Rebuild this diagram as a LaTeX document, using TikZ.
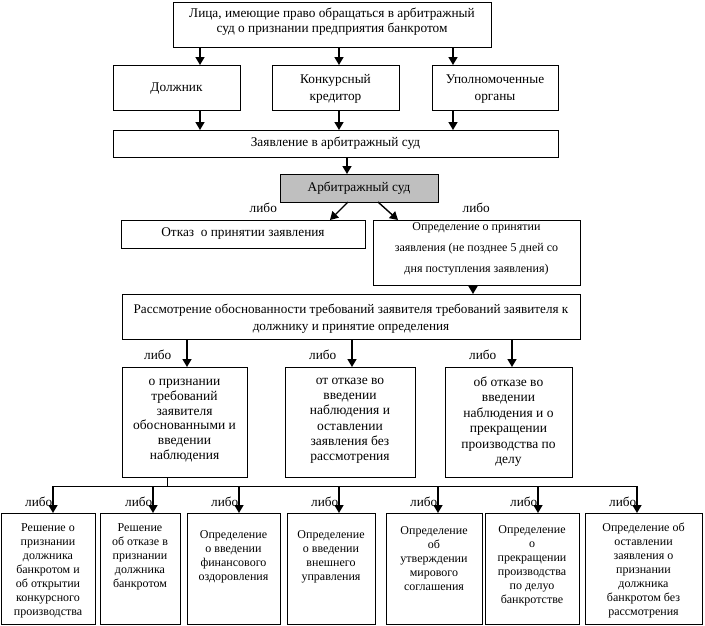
\documentclass[tikz,border=0pt]{standalone}
\usepackage{fontspec}
\setmainfont{Liberation Serif}
\usetikzlibrary{arrows.meta}
\tikzset{
  box/.style={draw=black, line width=1pt, inner sep=0pt, outer sep=0pt},
  arr/.style={line width=1.4pt, -{Triangle[length=8pt,width=9pt]}},
  bus/.style={line width=1pt},
  lbl/.style={inner sep=0pt, font=\fontsize{13.3}{15}\selectfont},
}
% name, left, top, right, bottom, pad, font size, baselineskip, text
\newcommand\mybx[9]{%
  \node[box, minimum width={(#4-#2)*1pt}, minimum height={(#5-#3)*1pt}] (#1)
    at ({(#2+#4)/2},{(#3+#5)/2})
    {\parbox[c][\dimexpr #5pt-#3pt\relax][t]{\dimexpr #4pt-#2pt-2pt\relax}{%
      \fontsize{#7}{#8}\selectfont\centering\vspace*{#6pt}\rule{0pt}{10pt}#9\par}};}
\begin{document}
\begin{tikzpicture}[x=1pt,y=-1pt]
\useasboundingbox (0,0) rectangle (705,625);
\mybx{top}{173}{2}{491}{47}{5.5}{13.3}{15}{Лица, имеющие право обращаться в арбитражный\\суд о признании предприятия банкротом}
\mybx{dolzh}{113}{65}{240}{110}{16}{13.3}{17}{Должник}
\mybx{kred}{272}{65}{399}{110}{8}{13.3}{17}{Конкурсный\\кредитор}
\mybx{upol}{432}{65}{558}{110}{8}{13.3}{17}{Уполномоченные\\органы}
\mybx{zayav}{113}{130}{558}{157}{6.5}{13.3}{17}{Заявление в арбитражный суд}
\begin{scope}[box/.append style={fill=black!25}]
\mybx{arb}{280}{174}{438}{202}{7.5}{13.3}{17}{Арбитражный суд}
\end{scope}
\mybx{otkaz}{121}{220}{365}{248}{6.5}{13.3}{17}{Отказ\ \ о принятии заявления}
\mybx{opred}{373}{220}{580}{285}{0.5}{12}{21}{Определение о принятии\\заявления (не позднее 5 дней со\\дня поступления заявления)}
\mybx{rass}{122}{294}{580}{339}{9}{13.2}{17}{Рассмотрение обоснованности требований заявителя требований заявителя к\\должнику и принятие определения}
\mybx{ba}{122}{367}{247}{477}{8.5}{13.5}{14.8}{о признании\\требований\\заявителя\\обоснованными и\\введении\\наблюдения}
\mybx{bb}{285}{367}{415}{477}{7.5}{13.5}{15.2}{от отказе во\\введении\\наблюдения и\\оставлении\\заявления без\\рассмотрения}
\mybx{bc}{445}{367}{572}{477}{9.5}{13.5}{15.4}{об отказе во\\введении\\наблюдения и о\\прекращении\\производства по\\делу}
\mybx{r1}{1}{513}{95}{624}{8}{12}{14}{Решение о\\признании\\должника\\банкротом и\\об открытии\\конкурсного\\производства}
\mybx{r2}{100}{513}{180}{624}{8}{12}{14}{Решение\\об отказе в\\признании\\должника\\банкротом}
\mybx{r3}{187}{513}{280}{624}{15}{12}{14}{Определение\\о введении\\финансового\\оздоровления}
\mybx{r4}{287}{513}{375}{624}{15}{12}{14}{Определение\\о введении\\внешнего\\управления}
\mybx{r5}{386}{513}{482}{624}{11.7}{12}{14}{Определение\\об\\утверждении\\мирового\\соглашения}
\mybx{r6}{485}{513}{579}{624}{10}{12}{14}{Определение\\о\\прекращении\\производства\\по делуо\\банкротстве}
\mybx{r7}{585}{513}{702}{624}{8}{12}{14}{Определение об\\оставлении\\заявления о\\признании\\должника\\банкротом без\\рассмотрения}
% columns
\coordinate (xa) at (200,0);
\coordinate (xb) at (339,0);
\coordinate (xc) at (453,0);
\coordinate (xd) at (347,0);
\coordinate (xe) at (473,0);
\coordinate (xf) at (187,0);
\coordinate (xg) at (352,0);
\coordinate (xh) at (512,0);
\coordinate (xs1) at (348,0);
\coordinate (xs2) at (330,0);
\coordinate (xs3) at (378,0);
\coordinate (xs4) at (398,0);
\draw[arr] (top.south -| xa) -- (dolzh.north -| xa);
\draw[arr] (top.south -| xb) -- (kred.north -| xb);
\draw[arr] (top.south -| xc) -- (upol.north -| xc);
\draw[arr] (dolzh.south -| xa) -- (zayav.north -| xa);
\draw[arr] (kred.south -| xb) -- (zayav.north -| xb);
\draw[arr] (upol.south -| xc) -- (zayav.north -| xc);
\draw[arr] (zayav.south -| xd) -- (arb.north -| xd);
\draw[arr] (arb.south -| xs1) -- node[lbl, pos=0.3, anchor=east, xshift=-65pt] {либо} (otkaz.north -| xs2);
\draw[arr] (arb.south -| xs3) -- node[lbl, pos=0.3, anchor=west, xshift=78pt] {либо} (opred.north -| xs4);
\draw[arr] (opred.south -| xe) -- (rass.north -| xe);
\draw[arr] (rass.south -| xf) -- node[lbl, pos=0.55, left=15pt] {либо} (ba.north -| xf);
\draw[arr] (rass.south -| xg) -- node[lbl, pos=0.55, left=15pt] {либо} (bb.north -| xg);
\draw[arr] (rass.south -| xh) -- node[lbl, pos=0.55, left=15pt] {либо} (bc.north -| xh);
% bus
\coordinate (j) at (167,486);
\coordinate (q1) at (53,486);
\coordinate (q2) at (153,486);
\coordinate (q3) at (239,486);
\coordinate (q4) at (339,486);
\coordinate (q5) at (438,486);
\coordinate (q6) at (538,486);
\coordinate (q7) at (637,486);
\draw[bus] (ba.south -| j) -- (j);
\draw[bus] (q1) -- (q7);
\foreach \i in {1,...,7}{
  \draw[arr] (q\i) -- node[lbl, pos=0.59, anchor=east] {либо} (r\i.north -| q\i);
}
\end{tikzpicture}
\end{document}
